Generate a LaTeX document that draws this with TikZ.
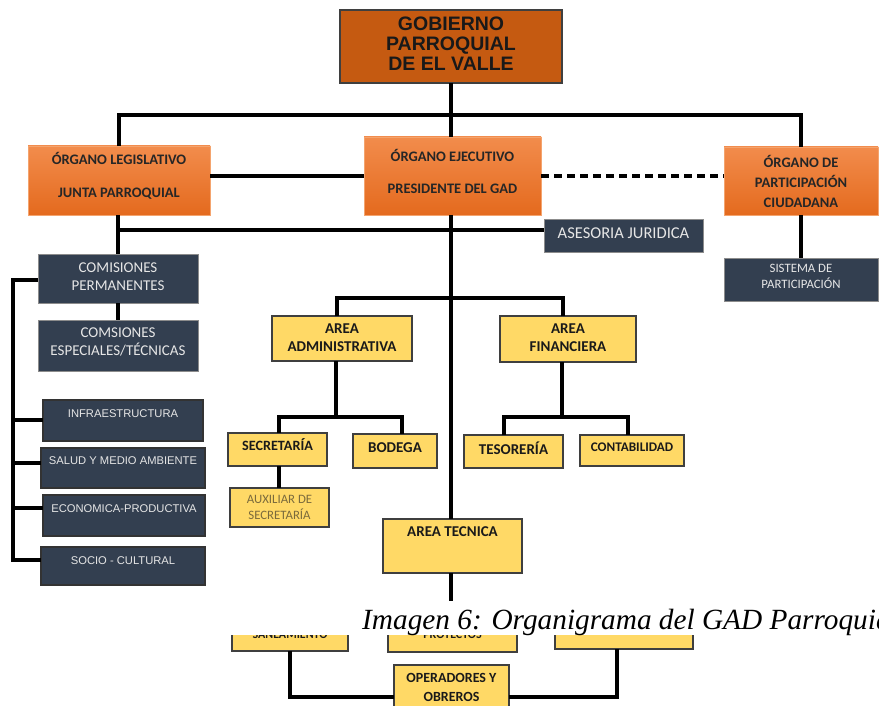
\documentclass[tikz,border=0pt]{standalone}
\usepackage{fontspec}
\setmainfont{Carlito}
\newfontfamily\arialf{Liberation Sans}
\newfontfamily\timesf{Liberation Serif}
\definecolor{topor}{HTML}{C55A11}
\definecolor{ortop}{HTML}{F28C4C}
\definecolor{orbot}{HTML}{E46A1E}
\definecolor{orbdr}{HTML}{F4A46E}
\definecolor{navy}{HTML}{333F50}
\definecolor{nbdr}{HTML}{8C8C8C}
\definecolor{yel}{HTML}{FFD966}
\definecolor{edge}{HTML}{3F3F3F}
\definecolor{ltxt}{HTML}{E6E6E6}
\definecolor{otxt}{HTML}{262626}
\definecolor{ytxt}{HTML}{1A1A1A}
\definecolor{atxt}{HTML}{7A6A3C}
% #1 name, #2-#5 corners (px), #6 box style, #7 text style, #8 text shift, #9 text
\newcommand\bx[9]{%
  \node[#6, minimum width={(#4)-(#2)}, minimum height={(#5)-(#3)}] (#1) at ({((#2)+(#4))/2},{((#3)+(#5))/2}) {};
  \node[#7] (#1-t) at ([yshift=#8]#1.center) {#9};}
\begin{document}
\begin{tikzpicture}[x=1pt,y=-1pt,
  box/.style={rectangle,inner sep=0pt,outer sep=0pt},
  txt/.style={inner sep=0pt,outer sep=0pt,align=center},
  topbox/.style={box,fill=topor,draw=edge,line width=1.2pt},
  gtx/.style={txt,text=black!90,font=\arialf\bfseries\fontsize{19.5}{20}\selectfont},
  orbox/.style={box,top color=ortop,bottom color=orbot,draw=orbdr,line width=0.8pt},
  otx/.style={txt,text=otxt,font=\bfseries\fontsize{14.5}{14}\selectfont},
  nbox/.style={box,fill=navy,draw=nbdr,line width=0.8pt},
  ntx/.style={txt,text=ltxt,font=\fontsize{15}{18}\selectfont},
  cbox/.style={box,fill=navy,draw=black!80,line width=1.2pt},
  ctx/.style={txt,text=ltxt,font=\arialf\fontsize{11.2}{12}\selectfont},
  ybox/.style={box,fill=yel,draw=edge,line width=1.2pt},
  ytx/.style={txt,text=ytxt,font=\bfseries\fontsize{15}{18}\selectfont},
  atx/.style={txt,text=atxt,font=\fontsize{12.8}{16}\selectfont},
  conn/.style={line width=3.8pt,black},
]
\clip (0,0) rectangle (879,706);
\fill[white] (0,0) rectangle (879,706);

% ---------- boxes ----------
\bx{gob}{340}{10}{562}{83}{topbox}{gtx}{2.5pt}{GOBIERNO\\PARROQUIAL\\DE EL VALLE}
\bx{leg}{28}{146}{210}{215}{orbox}{otx}{5pt}{ÓRGANO LEGISLATIVO\\[19pt]JUNTA PARROQUIAL}
\bx{eje}{364}{137}{541}{215}{orbox}{otx}{5pt}{ÓRGANO EJECUTIVO\\[18pt]PRESIDENTE DEL GAD}
\bx{part}{724}{147}{878}{215}{orbox}{otx}{0pt}{ÓRGANO DE\\[6pt]PARTICIPACIÓN\\[6pt]CIUDADANA}
\bx{sist}{724}{258}{878}{301}{nbox}{ntx,font=\fontsize{12.8}{16}\selectfont}{3.5pt}{SISTEMA DE\\PARTICIPACIÓN}
\bx{ase}{544}{219}{703}{252}{nbox}{ntx,font=\fontsize{16.5}{18}\selectfont}{2.5pt}{ASESORIA JURIDICA}
\bx{cperm}{38}{254}{198}{303}{nbox}{ntx}{1.5pt}{COMISIONES\\PERMANENTES}
\bx{cesp}{38}{320}{198}{371}{nbox}{ntx}{3.5pt}{COMSIONES\\ESPECIALES/TÉCNICAS}
\bx{infra}{43}{400}{203}{441}{cbox}{ctx}{6.5pt}{INFRAESTRUCTURA}
\bx{salud}{41}{448}{205}{488}{cbox}{ctx}{7pt}{SALUD Y MEDIO AMBIENTE}
\bx{econ}{43}{495}{205}{536}{cbox}{ctx}{6.5pt}{ECONOMICA-PRODUCTIVA}
\bx{socio}{41}{547}{205}{585}{cbox}{ctx}{5pt}{SOCIO - CULTURAL}
\bx{adm}{272}{316}{412}{361}{ybox}{ytx}{0.5pt}{AREA\\ADMINISTRATIVA}
\bx{fin}{500}{316}{636}{362}{ybox}{ytx}{1pt}{AREA\\FINANCIERA}
\bx{sec}{228}{433}{327}{466}{ybox}{ytx,font=\bfseries\fontsize{14.2}{16}\selectfont}{4.5pt}{SECRETARÍA}
\bx{bod}{353}{434}{437}{468}{ybox}{ytx}{3pt}{BODEGA}
\bx{tes}{464}{435}{563}{468}{ybox}{ytx}{3.5pt}{TESORERÍA}
\bx{cont}{580}{435}{684}{466}{ybox}{ytx,font=\bfseries\fontsize{13.2}{16}\selectfont}{3.5pt}{CONTABILIDAD}
\bx{aux}{230}{488}{329}{527}{ybox}{atx}{0pt}{AUXILIAR DE\\SECRETARÍA}
\bx{tec}{383}{519}{522}{573}{ybox}{ytx}{14pt}{AREA TECNICA}
\bx{san}{232}{612}{348}{651}{ybox}{ytx,font=\bfseries\fontsize{12}{16}\selectfont}{-3pt}{SANEAMIENTO}
\bx{pro}{388}{612}{517}{652}{ybox}{ytx,font=\bfseries\fontsize{12}{16}\selectfont}{-3pt}{PROYECTOS}
\bx{thr}{555}{612}{693}{649}{ybox}{ytx}{0pt}{}
\bx{ope}{394}{665}{509}{714}{ybox}{ytx,font=\bfseries\fontsize{14}{19}\selectfont}{2pt}{OPERADORES Y\\OBREROS}

% ---------- connectors ----------
\coordinate (bar) at (451,115);
\draw[conn] (gob.south) -- (gob.south |- eje.north);
\draw[conn] (leg.north) |- (bar) -| (part.north);
\draw[conn] (eje.west) -- (eje.west -| leg.east);
\draw[conn,dash pattern=on 8pt off 5pt] (eje.east) -- (eje.east -| part.west);
\draw[conn] (leg.south -| cperm.north) -- (cperm.north);
\coordinate (asej) at ([yshift=5.5pt]ase.west);
\draw[conn] (cperm.north |- asej) -- (asej);
\draw[conn] (cperm.south) -- (cesp.north);
\draw[conn] (part.south) -- (part.south |- sist.north);
\draw[conn] (eje.south -| gob.south) -- (tec.north -| gob.south);

\coordinate (lb) at (13,280);
\coordinate (b1) at (13,420);
\coordinate (b2) at (13,463);
\coordinate (b3) at (13,508);
\coordinate (b4) at (13,560);
\draw[conn] (cperm.west |- lb) -- (lb) -- (b4) -- (b4 -| socio.west);
\draw[conn] (b1) -- (b1 -| infra.west);
\draw[conn] (b2) -- (b2 -| salud.west);
\draw[conn] (b3) -- (b3 -| econ.west);

\coordinate (ya) at (337,298);
\coordinate (yf) at (563,298);
\draw[conn] (ya |- adm.north) -- (ya) -- (yf) -- (yf |- fin.north);
\coordinate (aj) at (336,417);
\coordinate (s1) at (279,417);
\coordinate (s2) at (402,417);
\draw[conn] (adm.south -| aj) -- (aj);
\draw[conn] (s1 |- sec.north) -- (s1) -- (s2) -- (s2 |- bod.north);
\coordinate (fj) at (562,417);
\coordinate (t1) at (504,417);
\coordinate (t2) at (628,417);
\draw[conn] (fin.south -| fj) -- (fj);
\draw[conn] (t1 |- tes.north) -- (t1) -- (t2) -- (t2 |- cont.north);
\draw[conn] (sec.south -| s1) -- (s1 |- aux.north);

\coordinate (td) at (451,612);
\draw[conn] (tec.south -| gob.south) -- (td);
\coordinate (l1) at (290,697);
\coordinate (r1) at (617,697);
\draw[conn] (san.south -| l1) -- (l1) -- (l1 -| ope.west);
\draw[conn] (ope.east |- r1) -- (r1) -- (r1 |- thr.south);

% ---------- page break band and caption ----------
\fill[white] (0,601) rectangle (879,635);
\node[anchor=base west,inner sep=0pt,font=\timesf\itshape\fontsize{29.3}{30}\selectfont] (cap) at (362,629) {Imagen 6: Organigrama del GAD Parroquial};
\end{tikzpicture}
\end{document}
